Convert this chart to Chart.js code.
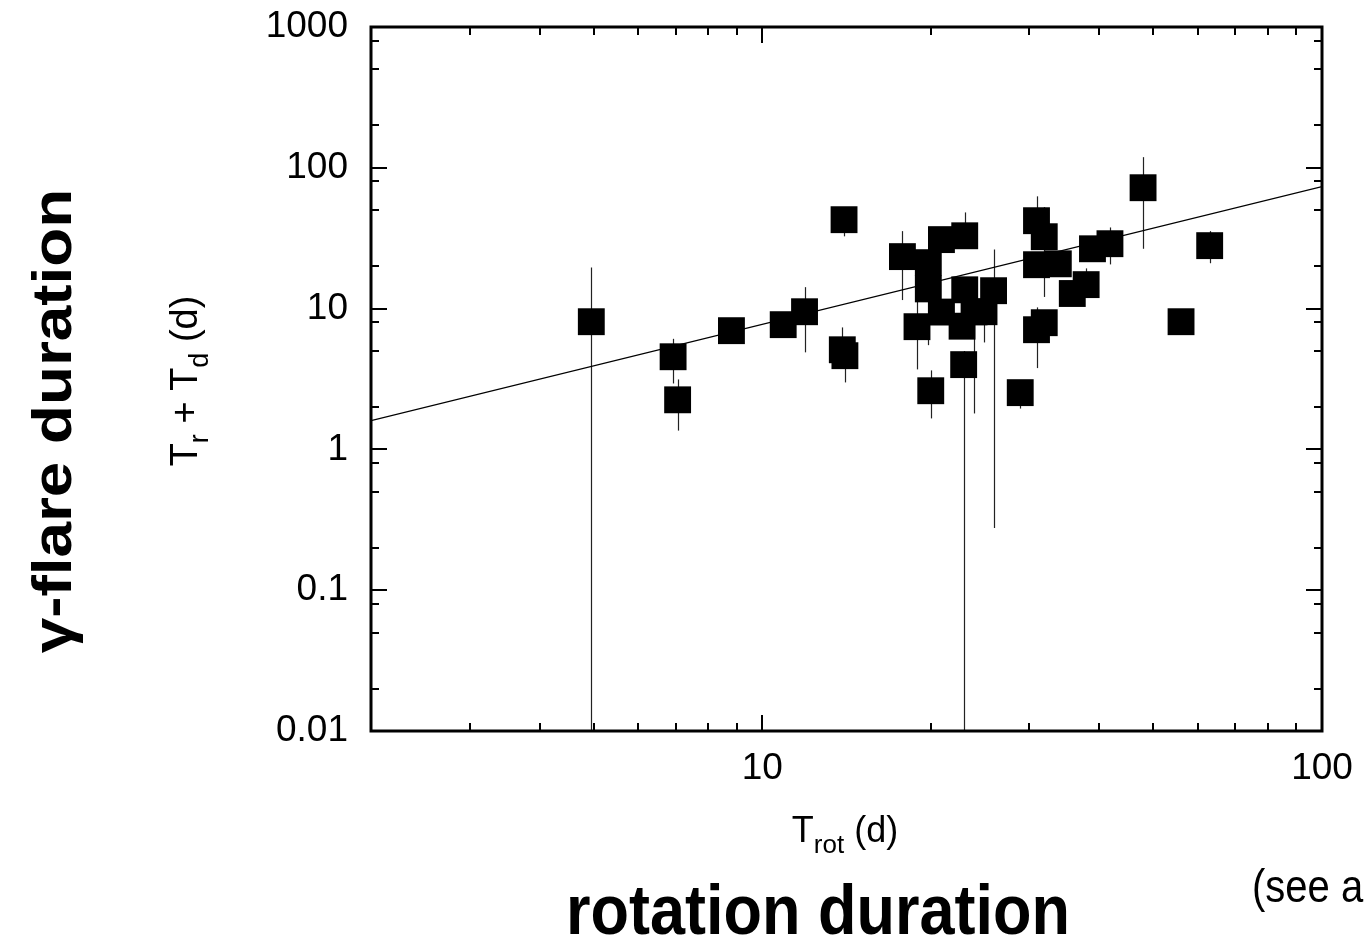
<!DOCTYPE html>
<html>
<head>
<meta charset="utf-8">
<script src="https://cdn.jsdelivr.net/npm/chart.js@4.4.1/dist/chart.umd.min.js"></script>
<style>
  html, body { margin: 0; padding: 0; background: #fff; }
  #wrap { width: 1364px; height: 937px; }
</style>
</head>
<body>
<div id="wrap"><canvas id="chart" width="1364" height="937"></canvas></div>
<script>
// rotation period (d) vs flare duration Tr + Td (d), with vertical error bars
const rotPeriod = [4.95, 6.93, 7.06, 8.81, 10.9, 11.9, 14.0, 13.9, 14.05, 17.8, 19.8, 19.8, 20.9, 23.0, 20.9, 18.9, 23.0, 25.9, 24.9, 23.9, 22.75, 20.0, 22.9, 28.9, 30.9, 31.9, 30.9, 33.8, 35.8, 37.9, 38.9, 41.8, 47.9, 30.9, 31.9, 56.0, 63.0];
const flareDur = [8.07, 4.55, 2.25, 6.97, 7.69, 9.5, 42.8, 5.1, 4.63, 23.4, 21.2, 13.8, 30.9, 32.9, 9.45, 7.44, 13.6, 13.4, 9.5, 9.48, 7.5, 2.61, 4.0, 2.53, 42.1, 32.4, 20.5, 20.8, 12.8, 14.8, 26.6, 28.9, 72.2, 7.08, 7.94, 8.07, 28.0];
const errLow = [0.005, 2.94, 1.36, null, null, 4.89, 32.6, 4.6, 2.99, 11.5, null, 5.5, null, 28, null, 3.7, null, 0.276, 5.75, 1.8, null, 1.66, 0.005, 1.95, 35, 12.1, null, null, 11, 12, null, 20.6, 26.6, 3.78, null, null, 21.0];
const errHigh = [19.6, 6.1, 3.14, null, null, 14.2, 48, 7.35, 5.2, 35.5, null, 16, null, 48.2, null, 11.4, null, 26.3, 11, 11, null, 3.64, 5, 2.9, 62.7, 52.6, null, null, 14, 19.3, null, 37.7, 119, 10.2, null, null, 35.5];

// power-law fit line end points
const fitX = [2, 100];
const fitY = [1.6, 73.5];

const xTickLabels = [10, 100];
const yTickLabels = [0.01, 0.1, 1, 10, 100, 1000];
const xMinorTicks = [3, 4, 5, 6, 7, 8, 9, 20, 30, 40, 50, 60, 70, 80, 90];
const yMinorTicks = [0.02, 0.05, 0.08, 0.2, 0.5, 0.8, 2, 5, 8, 20, 50, 80, 200, 500, 800];

const FONT = "'Liberation Sans', Arial, Helvetica, sans-serif";

// draws text made of normal / subscript pieces, centred on x
function drawParts(ctx, parts, x, y, size) {
  const subSize = Math.round(size * 0.72);
  let total = 0;
  parts.forEach(p => {
    ctx.font = (p.sub ? subSize : size) + "px " + FONT;
    total += ctx.measureText(p.t).width;
  });
  let cx = x - total / 2;
  parts.forEach(p => {
    ctx.font = (p.sub ? subSize : size) + "px " + FONT;
    ctx.fillText(p.t, cx, p.sub ? y + size * 0.3 : y);
    cx += ctx.measureText(p.t).width;
  });
}

const errorBars = {
  id: "errorBars",
  beforeDatasetsDraw(chart) {
    const { ctx, chartArea: a, scales } = chart;
    ctx.save();
    ctx.beginPath();
    ctx.rect(a.left, a.top, a.right - a.left, a.bottom - a.top);
    ctx.clip();
    ctx.strokeStyle = "#222";
    ctx.lineWidth = 1.2;
    rotPeriod.forEach((xv, i) => {
      if (errLow[i] == null || errHigh[i] == null) return;
      const px = Math.round(scales.x.getPixelForValue(xv)) + 0.5;
      ctx.beginPath();
      ctx.moveTo(px, scales.y.getPixelForValue(errHigh[i]));
      ctx.lineTo(px, scales.y.getPixelForValue(errLow[i]));
      ctx.stroke();
    });
    ctx.restore();
  }
};

const frame = {
  id: "frame",
  afterDraw(chart) {
    const { ctx, chartArea: a, scales } = chart;
    ctx.save();
    ctx.strokeStyle = "#000";
    ctx.lineWidth = 2;
    const major = 16, minor = 8;
    const xt = xTickLabels.map(v => [v, major]).concat(xMinorTicks.map(v => [v, minor]));
    xt.forEach(([v, len]) => {
      const px = Math.round(scales.x.getPixelForValue(v));
      ctx.beginPath();
      ctx.moveTo(px, a.bottom); ctx.lineTo(px, a.bottom - len);
      ctx.moveTo(px, a.top); ctx.lineTo(px, a.top + len);
      ctx.stroke();
    });
    const yt = yTickLabels.map(v => [v, major]).concat(yMinorTicks.map(v => [v, minor]));
    yt.forEach(([v, len]) => {
      const py = Math.round(scales.y.getPixelForValue(v));
      ctx.beginPath();
      ctx.moveTo(a.left, py); ctx.lineTo(a.left + len, py);
      ctx.moveTo(a.right, py); ctx.lineTo(a.right - len, py);
      ctx.stroke();
    });
    ctx.lineWidth = 3;
    ctx.strokeRect(a.left, a.top, a.right - a.left, a.bottom - a.top);

    // axis titles
    ctx.fillStyle = "#000";
    ctx.textBaseline = "alphabetic";
    ctx.textAlign = "left";
    drawParts(ctx, [{ t: "T" }, { t: "rot", sub: true }, { t: " (d)" }], 845, 842, 36);

    ctx.save();
    ctx.translate(197, 381);
    ctx.rotate(-Math.PI / 2);
    drawParts(ctx, [{ t: "T" }, { t: "r", sub: true }, { t: " + T" }, { t: "d", sub: true }, { t: " (d)" }], 0, 0, 38);
    ctx.restore();

    // big annotation labels (slightly stretched vertically like the source figure)
    ctx.textAlign = "center";
    ctx.save();
    ctx.translate(818, 934);
    ctx.scale(1, 1.12);
    ctx.font = "bold 63px " + FONT;
    ctx.fillText("rotation duration", 0, 0);
    ctx.restore();

    ctx.save();
    ctx.translate(71, 421);
    ctx.rotate(-Math.PI / 2);
    ctx.scale(1.14, 1);
    ctx.font = "bold 56px " + FONT;
    ctx.fillText("\u03b3-flare duration", 0, 0);
    ctx.restore();

    ctx.save();
    ctx.translate(1252, 902);
    ctx.scale(1, 1.15);
    ctx.font = "40px " + FONT;
    ctx.textAlign = "left";
    ctx.fillText("(see also", 0, 0);
    ctx.restore();
    ctx.restore();
  }
};

new Chart(document.getElementById("chart"), {
  type: "scatter",
  data: {
    datasets: [
      {
        label: "flares",
        data: rotPeriod.map((x, i) => ({ x: x, y: flareDur[i] })),
        pointStyle: "rect",
        pointRadius: 19,
        pointHoverRadius: 19,
        backgroundColor: "#000",
        borderWidth: 0,
        order: 0
      },
      {
        type: "line",
        label: "fit",
        data: fitX.map((x, i) => ({ x: x, y: fitY[i] })),
        borderColor: "#000",
        borderWidth: 1.4,
        pointRadius: 0,
        fill: false,
        order: 1
      }
    ]
  },
  options: {
    responsive: false,
    animation: false,
    devicePixelRatio: 1,
    layout: { padding: { left: 0, right: 42, top: 27, bottom: 0 } },
    plugins: { legend: { display: false }, tooltip: { enabled: false } },
    scales: {
      x: {
        type: "logarithmic",
        min: 2,
        max: 100,
        grid: { display: false },
        border: { display: false },
        afterBuildTicks: s => { s.ticks = xTickLabels.map(v => ({ value: v })); },
        afterFit: s => {
          s.height = 206;
          s.paddingLeft = 0; s.paddingRight = 0;
        },
        ticks: {
          padding: 8,
          maxRotation: 0,
          autoSkip: false,
          color: "#000",
          font: { family: FONT, size: 37 },
          callback: v => String(v)
        }
      },
      y: {
        type: "logarithmic",
        min: 0.01,
        max: 1000,
        grid: { display: false },
        border: { display: false },
        afterBuildTicks: s => { s.ticks = yTickLabels.map(v => ({ value: v })); },
        afterFit: s => {
          s.width = 371;
          s.paddingTop = 0; s.paddingBottom = 0;
        },
        ticks: {
          padding: 15,
          autoSkip: false,
          color: "#000",
          font: { family: FONT, size: 37 },
          callback: v => String(v)
        }
      }
    }
  },
  plugins: [errorBars, frame]
});
</script>
</body>
</html>
